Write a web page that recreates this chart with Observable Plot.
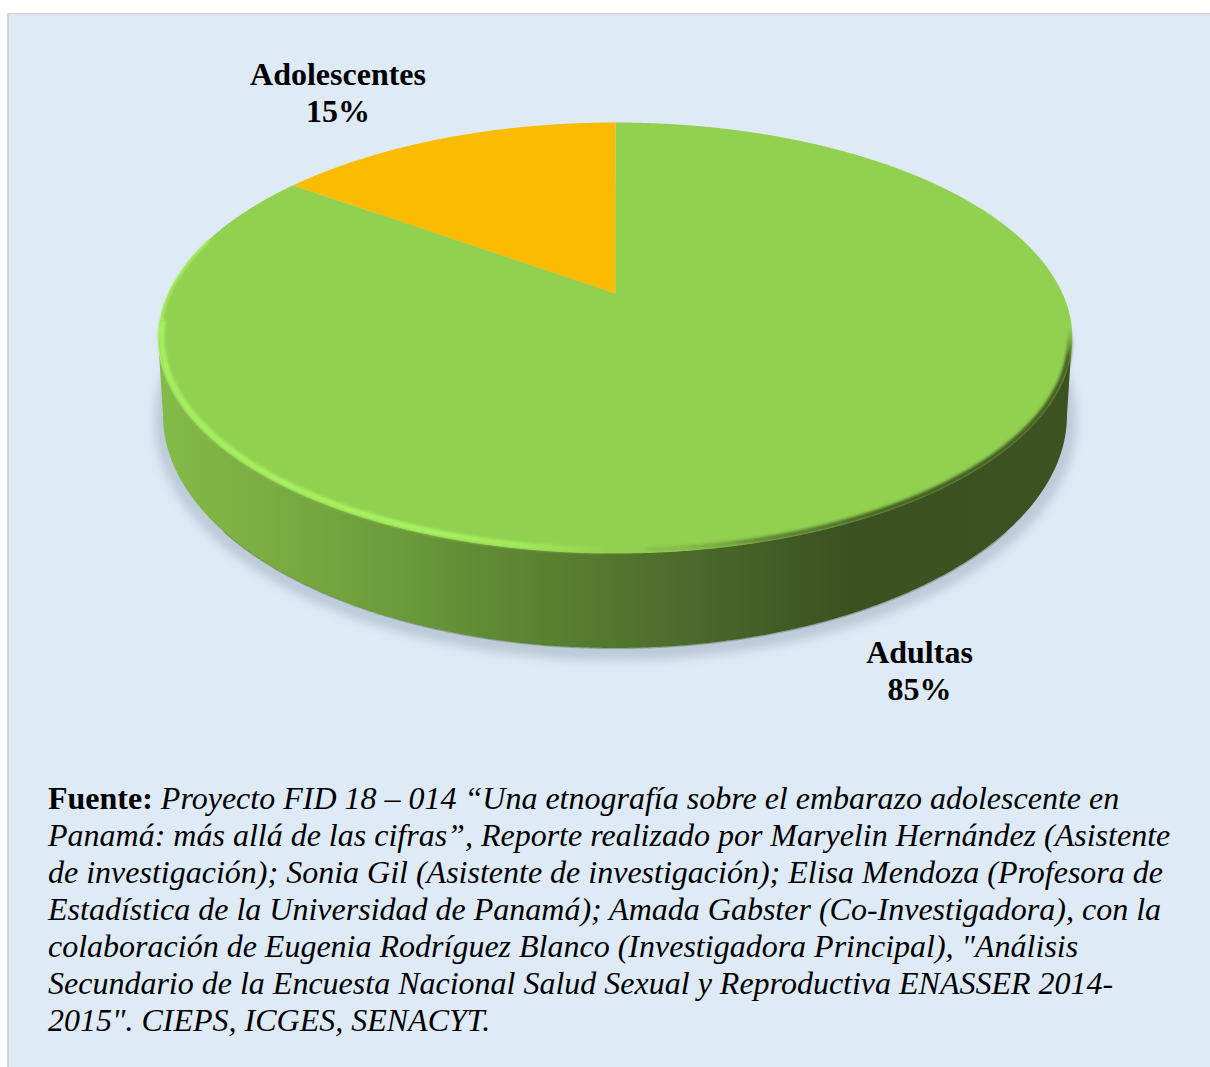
<!DOCTYPE html>
<html lang="es">
<head>
<meta charset="utf-8">
<script src="https://cdn.jsdelivr.net/npm/d3@7"></script>
<script src="https://cdn.jsdelivr.net/npm/@observablehq/plot@0.6"></script>
<style>
  html, body { margin: 0; padding: 0; background: #fff; width: 1210px; height: 1067px; overflow: hidden; }
  #panel { position: absolute; left: 7px; top: 13px; right: 0; bottom: 0; box-sizing: border-box;
           background: #deeaf6; border-top: 2px solid #d8dde2; border-left: 2px solid #d6d6d6; }
  #chart { position: absolute; left: 0; top: 0; }
  #chart svg { display: block; background: transparent; }
  #caption { position: absolute; left: 48px; top: 780px; width: 1160px; color: #000;
             font: italic 32px/37px "Liberation Serif", serif; white-space: nowrap; }
  #caption b { font-style: normal; }
</style>
</head>
<body>
<div id="panel"></div>
<div id="chart"></div>
<div id="caption"></div>
<script>
// ---- values ----
const categories = ["Adultas", "Adolescentes"];
const shares = [85, 15];
const sliceColors = ["#92d050", "#fbbc00"];
const sourceLead = "Fuente:";
const sourceLines = [
  " Proyecto FID 18 – 014 “Una etnografía sobre el embarazo adolescente en",
  "Panamá: más allá de las cifras”, Reporte realizado por Maryelin Hernández (Asistente",
  "de investigación); Sonia Gil (Asistente de investigación); Elisa Mendoza (Profesora de",
  "Estadística de la Universidad de Panamá); Amada Gabster (Co-Investigadora), con la",
  "colaboración de Eugenia Rodríguez Blanco (Investigadora Principal), \"Análisis",
  "Secundario de la Encuesta Nacional Salud Sexual y Reproductiva ENASSER 2014-",
  "2015\". CIEPS, ICGES, SENACYT."
];

// ---- tilted-disc geometry, in disc units ----
const W = 1210, H = 760;
const unitX = 447, unitY = 206.3, originX = 615, originY = 293, k = 0.2065;
const px = d => (d - originX) / unitX;             // layout helpers
const py = d => (originY - d) / unitY;
const project = (u, v) => ({ x: u / (1 + k * v), y: v / (1 + k * v) });

const total = d3.sum(shares);
let acc = 0;
const slices = categories.map((name, i) => {
  const a0 = acc / total * 2 * Math.PI;
  acc += shares[i];
  const a1 = acc / total * 2 * Math.PI;
  const pts = [project(0, 0)];
  const n = Math.max(2, Math.round((a1 - a0) / 0.005));
  for (let j = 0; j <= n; j++) {
    const a = a0 + (a1 - a0) * j / n;
    pts.push(project(Math.sin(a), Math.cos(a)));
  }
  pts.forEach(p => p.name = name);
  return { name, share: shares[i], color: sliceColors[i], pts };
});

const ellipse = (cx, cy, rx, ry) => t => ({
  x: px(cx) + rx / unitX * Math.cos(t),
  y: py(cy) - ry / unitY * Math.sin(t)
});
const topEdge = ellipse(615, 337.5, 457, 215.5);
const footEdge = ellipse(615, 415, 452, 233);
const range = (deg0, deg1, n = 360) =>
  d3.range(n + 1).map(i => (deg0 + (deg1 - deg0) * i / n) * Math.PI / 180);

const wall = range(180, 0).map(t => {
  const a = topEdge(t), b = footEdge(t);
  return { x1: a.x, y1: a.y, x2: b.x, y2: b.y };
});
const inset = (r, dy) => ellipse(615, 337.5 - dy, 457 - r, 215.5 - r);
const lightTail = range(207, 180).map(t => inset(1.2, 0)(t));
const lightRim = range(184, 92).map(t => inset(3.2, 0.5)(t));
const darkRim = range(-1, 86).map(t => inset(2.5, 0)(t));
const footLine = range(150, 30).map(t => footEdge(t));
const shadowDisc = d3.range(0, 361).map(d => ellipse(615, 420, 461, 240)(d * Math.PI / 180));

const blur = id => (index, scales, values, dims, ctx, next) => {
  const g = next(index, scales, values, dims, ctx);
  g.setAttribute("filter", `url(#${id})`);
  return g;
};

const defs = () => {
  const d = d3.create("svg:defs");
  d.html(`
    <linearGradient id="wallGrad" gradientUnits="userSpaceOnUse" x1="158" x2="1072" y1="0" y2="0">
      <stop offset="0" stop-color="#84bb48"/>
      <stop offset="0.12" stop-color="#7bad42"/>
      <stop offset="0.27" stop-color="#6a9a3a"/>
      <stop offset="0.40" stop-color="#5c8433"/>
      <stop offset="0.53" stop-color="#50722e"/>
      <stop offset="0.66" stop-color="#445f27"/>
      <stop offset="0.76" stop-color="#3b5120"/>
      <stop offset="1" stop-color="#3c5220"/>
    </linearGradient>
    <linearGradient id="lightGrad" gradientUnits="userSpaceOnUse" x1="158" x2="1072" y1="0" y2="0">
      <stop offset="0" stop-color="#a6f05e"/>
      <stop offset="0.30" stop-color="#a8f262"/>
      <stop offset="0.40" stop-color="#a2ea5c"/>
      <stop offset="0.50" stop-color="#92d050"/>
    </linearGradient>
    <linearGradient id="darkGrad" gradientUnits="userSpaceOnUse" x1="0" x2="0" y1="335" y2="552">
      <stop offset="0" stop-color="#3c5220" stop-opacity="0.15"/>
      <stop offset="0.10" stop-color="#3c5220" stop-opacity="0.95"/>
      <stop offset="0.80" stop-color="#3c5220" stop-opacity="0.95"/>
      <stop offset="0.94" stop-color="#3c5220" stop-opacity="0.6"/>
      <stop offset="1" stop-color="#3c5220" stop-opacity="0"/>
    </linearGradient>
    <filter id="soft" x="-10%" y="-10%" width="120%" height="120%"><feGaussianBlur stdDeviation="5"/></filter>
    <filter id="rim" x="-5%" y="-5%" width="110%" height="110%"><feGaussianBlur stdDeviation="1.8"/></filter>
    <filter id="rimSmall" x="-50%" y="-5%" width="200%" height="110%"><feGaussianBlur stdDeviation="0.8"/></filter>
  `);
  return d.node();
};

const labelSpot = { Adultas: [919, 669], Adolescentes: [337.5, 91] };

const plot = Plot.plot({
  width: W, height: H, margin: 0,
  x: { domain: [px(0), px(W)], range: [0, W], axis: null },
  y: { domain: [py(H), py(0)], range: [H, 0], axis: null },
  style: { background: "transparent" },
  marks: [
    defs,
    Plot.line(shadowDisc, { x: "x", y: "y", fill: "#bccbd8", stroke: "none", render: blur("soft") }),
    Plot.area(wall, { x1: "x1", y1: "y1", x2: "x2", y2: "y2", fill: "url(#wallGrad)" }),
    Plot.line(footLine, { x: "x", y: "y", stroke: "#2f4a14", strokeWidth: 1.2, strokeOpacity: 0.3 }),
    ...slices.map(s => Plot.line(s.pts, { x: "x", y: "y", fill: s.color, stroke: "none" })),
    Plot.line(darkRim, { x: "x", y: "y", stroke: "url(#darkGrad)", strokeWidth: 5, render: blur("rim") }),
    Plot.line(lightTail, { x: "x", y: "y", stroke: "#a6f05e", strokeWidth: 2.4, render: blur("rimSmall") }),
    Plot.line(lightRim, { x: "x", y: "y", stroke: "url(#lightGrad)", strokeWidth: 6, strokeLinecap: "round", render: blur("rim") }),
    Plot.text(slices, {
      x: d => px(labelSpot[d.name][0]),
      y: d => py(labelSpot[d.name][1]),
      text: d => `${d.name}\n${d.share}%`,
      fontFamily: "Liberation Serif",
      fontWeight: "bold",
      fontSize: 32,
      lineHeight: 1.156,
      fill: "#000",
      textAnchor: "middle"
    })
  ]
});
document.getElementById("chart").append(plot);

const cap = document.getElementById("caption");
const lead = document.createElement("b");
lead.textContent = sourceLead;
cap.append(lead);
sourceLines.forEach((line, i) => {
  if (i) cap.append(document.createElement("br"));
  cap.append(document.createTextNode(line));
});
</script>
</body>
</html>
